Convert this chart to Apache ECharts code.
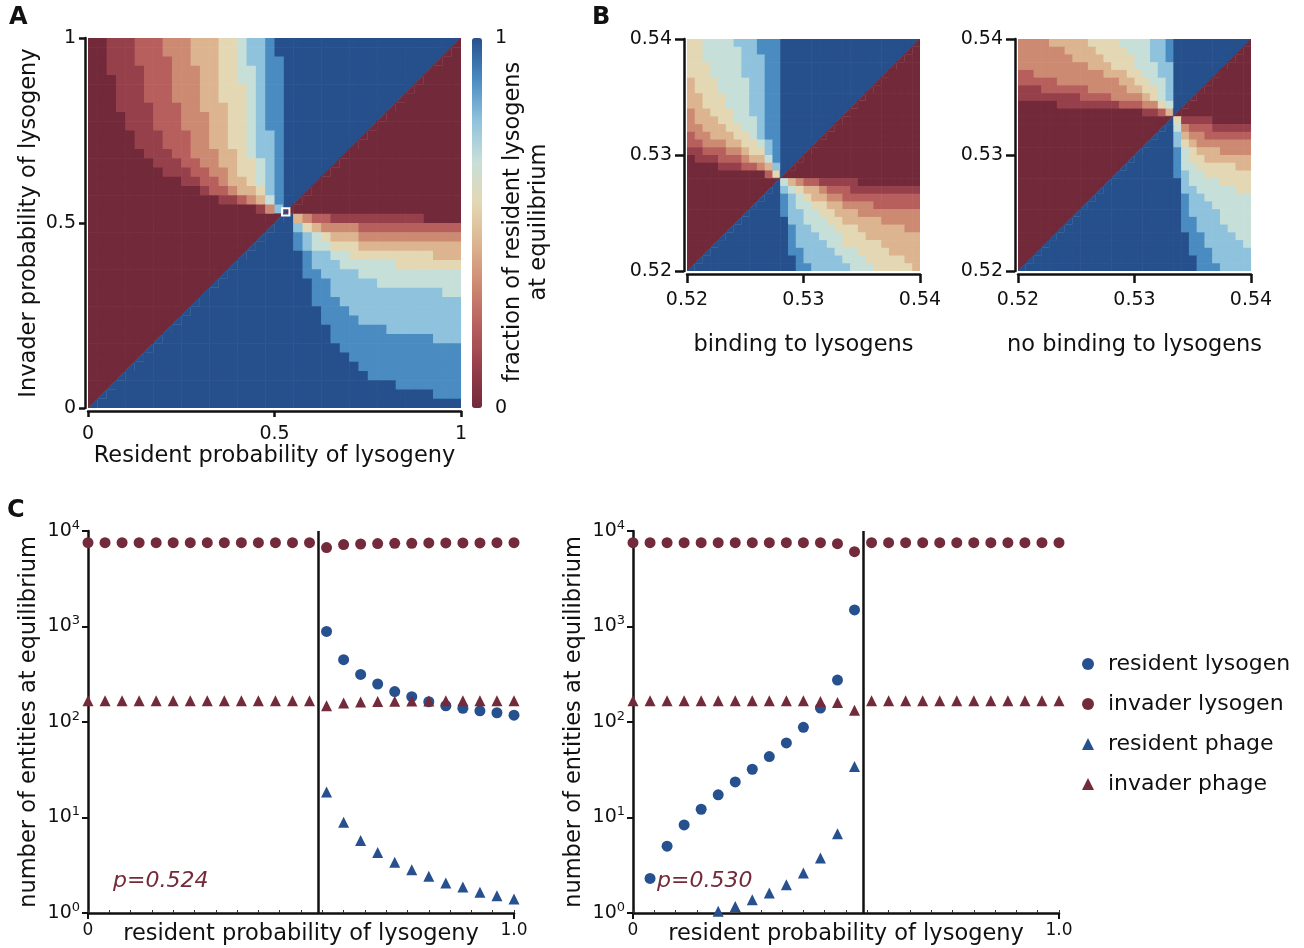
<!DOCTYPE html>
<html>
<head>
<meta charset="utf-8">
<script src="https://cdn.jsdelivr.net/npm/echarts/dist/echarts.min.js"></script>
<style>
  html, body { margin: 0; padding: 0; background: #fff; }
  #chart { width: 1304px; height: 948px; }
</style>
</head>
<body>
<div id="chart"></div>
<script>
// heatmaps: rows listed top -> bottom, one digit per cell = fraction * 9
// "d*n" = digit d repeated n times
// cells cut by the diagonal: "a" = red above / blue below, "b" = blue above / red below
const rangeA = [0, 1];
const rangeB = [0.52, 0.54];
const zoomBox = [0.52, 0.54];

const heatA = [
  '001112223334445567789 9*18 b',
  '001112223334445567789 9*17 b 0',
  '001112222334445567788 9*16 b 0*2',
  '001111222333445566788 9*15 b 0*3',
  '000111222333445566788 9*14 b 0*4',
  '000111222333445556788 9*13 b 0*5',
  '000111222333445556788 9*12 b 0*6',
  '000111122233444556788 9*11 b 0*7',
  '000011122233344556788 9*10 b 0*8',
  '000011122233344556788 9*9 b 0*9',
  '000001112223344556778 9*8 b 0*10',
  '000001112223344556778 9*7 b 0*11',
  '0*6 111223334456778 9*6 b 0*12',
  '0*7 11122334455678 9*5 b 0*13',
  '0*8 1112233455678 9*4 b 0*14',
  '0*10 11223445678 9*3 b 0*15',
  '0*12 122344578 9*2 b 0*16',
  '0*14 1123468 9 b 0*17',
  '0*18 137 b 0*18',
  '0*20 a 9 4322 1*10 0*4',
  '0*19 a 9*2 7543333 2*11',
  '0*18 a 9*3 8765444 3*11',
  '0*17 a 9*4 8766555 4*11',
  '0*16 a 9*6 87766 5*9 4*3',
  '0*15 a 9*7 8777 6*6 5*7',
  '0*14 a 9*8 88 7*4 6*11',
  '0*13 a 9*10 8*2 7*5 6*9',
  '0*12 a 9*11 8*2 7*12 6*2',
  '0*11 a 9*12 8*3 7*13',
  '0*10 a 9*14 8*3 7*12',
  '0*9 a 9*15 8*4 7*11',
  '0*8 a 9*17 8*6 7*8',
  '0*7 a 9*18 8*11 7*3',
  '0*6 a 9*20 8*13',
  '0*5 a 9*22 8*12',
  '0*4 a 9*24 8*11',
  '0*3 a 9*26 8*10',
  '0*2 a 9*30 8*7',
  '0*1 a 9*35 8*3',
  'a 9*39'
];

const heatBinding = [
  '556666777888 9*17 b',
  '556666677888 9*16 b 0',
  '556666677788 9*15 b 0*2',
  '555666677788 9*14 b 0*3',
  '555666677788 9*13 b 0*4',
  '455566667788 9*12 b 0*5',
  '455566667788 9*11 b 0*6',
  '445556667788 9*10 b 0*7',
  '445556667788 9*9 b 0*8',
  '344555667788 9*8 b 0*9',
  '344455666788 9*7 b 0*10',
  '334445566788 9*6 b 0*11',
  '233444556788 9*5 b 0*12',
  '223334455678 9*4 b 0*13',
  '112223345578 9*3 b 0*14',
  '011122234468 9*2 b 0*15',
  '000011122347 9 b 0*16',
  '000000000025 b 0*17',
  '0*11 a 6432211111 0*8',
  '0*10 a 9 765443222 1*9',
  '0*9 a 9*2 87654433 2*10',
  '0*8 a 9*3 87665544 3*4 2*6',
  '0*7 a 9*4 8776655444 3*8',
  '0*6 a 9*6 7766655 4*5 3*5',
  '0*5 a 9*7 877666555 4*6 3*2',
  '0*4 a 9*8 8777666555 4*7',
  '0*3 a 9*9 8 7*4 6*2 5*5 4*5',
  '0*2 a 9*10 8*2 7*4 6*3 5*4 4*4',
  '0*1 a 9*12 8 7*5 6*3 5*5 4*2',
  'a 9*13 8*2 7*5 6*3 5*5 4'
];

const heatNoBinding = [
  '33334444455556666778 9*9 b',
  '33333344445555666778 9*8 b 0',
  '33333334444555566778 9*7 b 0*2',
  '33333333344455566677 9*6 b 0*3',
  '22333333333444556677 9*5 b 0*4',
  '22222333333334455667 9*4 b 0*5',
  '11122222233333445567 9*3 b 0*6',
  '11111111222233334567 9*2 b 0*7',
  '00000111111112223356 9 b 0*8',
  '00000000000000001124 b 0*9',
  '0*19 a 51111 0*5',
  '0*18 a 9 63222 1*5',
  '0*17 a 9*2 7433 2*6',
  '0*16 a 9*3 754 3*7',
  '0*15 a 9*4 865444 3*4',
  '0*14 a 9*5 8655 4*6',
  '0*13 a 9*6 866 5*5 4*2',
  '0*12 a 9*7 8766 5*6',
  '0*11 a 9*9 7 6*4 5*4',
  '0*10 a 9*10 77 6*5 5*2',
  '0*9 a 9*11 877 6*6',
  '0*8 a 9*12 8777 6*5',
  '0*7 a 9*13 8 7*4 6*4',
  '0*6 a 9*14 88 777 6*4',
  '0*5 a 9*15 88 7*4 6*3',
  '0*4 a 9*17 88 7*4 6*2',
  '0*3 a 9*18 88 7*5 6',
  '0*2 a 9*19 888 7*5',
  '0*1 a 9*21 88 7*5',
  'a 9*22 888 7*4'
];

const fracColors = ['#722939', '#96404b', '#b75f5d', '#cd8a72', '#dcb490',
  '#e3d8b3', '#c7dfd9', '#8fc2dc', '#4a8bc1', '#26508c'];

// panel C: equilibrium counts vs resident probability of lysogeny
const residentP = [0, 0.04, 0.08, 0.12, 0.16, 0.2, 0.24, 0.28, 0.32, 0.36, 0.4, 0.44, 0.48,
  0.52, 0.56, 0.6, 0.64, 0.68, 0.72, 0.76, 0.8, 0.84, 0.88, 0.92, 0.96, 1.0];
const switchP = [0.54, 0.54];

const resLysogen524 = [null, null, null, null, null, null, null, null, null, null, null, null, null, null,
  887, 449, 315, 250, 208, 184, 163, 148, 139, 131, 125, 118];
const invLysogen524 = [7550, 7550, 7550, 7550, 7550, 7550, 7550, 7550, 7550, 7550, 7550, 7550, 7550, 7550,
  6700, 7200, 7310, 7380, 7440, 7440, 7500, 7500, 7500, 7500, 7550, 7550];
const resPhage524 = [null, null, null, null, null, null, null, null, null, null, null, null, null, null,
  18.5, 8.9, 5.75, 4.31, 3.39, 2.84, 2.42, 2.06, 1.87, 1.65, 1.52, 1.40];
const invPhage524 = [167, 167, 167, 167, 167, 167, 167, 167, 167, 167, 167, 167, 167, 167,
  148, 158, 162, 164, 165, 166, 166, 167, 167, 167, 167, 167];

const resLysogen530 = [null, 2.30, 5.01, 8.37, 12.2, 17.3, 23.6, 32.0, 43.4, 60.3, 87.9, 140, 275, 1490,
  null, null, null, null, null, null, null, null, null, null, null, null];
const invLysogen530 = [7550, 7550, 7550, 7550, 7550, 7550, 7550, 7550, 7550, 7550, 7550, 7550, 7370, 6080,
  7550, 7550, 7550, 7550, 7550, 7550, 7550, 7550, 7550, 7550, 7550, 7550];
const resPhage530 = [null, null, null, null, 0.95, 1.04, 1.17, 1.38, 1.62, 1.98, 2.62, 3.76, 6.75, 34.1,
  null, null, null, null, null, null, null, null, null, null, null, null];
const invPhage530 = [167, 167, 167, 167, 167, 167, 167, 167, 167, 167, 167, 164, 160, 133,
  167, 167, 167, 167, 167, 167, 167, 167, 167, 167, 167, 167];

const BLUE = '#27508f';
const RED = '#732a3b';
const FONT = 'DejaVu Sans';

function decodeRow(s) {
  return s.split(' ').map(function (t) {
    return t.indexOf('*') > 0 ? t[0].repeat(+t.slice(2)) : t;
  }).join('');
}

// cell item: [x0, y0, x1, y1, fraction, part]  part 0 = whole, 1 = upper-left half, 2 = lower-right half
function buildCells(rows, range) {
  let n = rows.length;
  let step = (range[1] - range[0]) / n;
  let cells = [];
  rows.forEach(function (s, r) {
    let row = decodeRow(s);
    if (row.length !== n) console.warn('row', r, 'has', row.length, 'cells');
    for (let i = 0; i < row.length; i++) {
      let x0 = range[0] + i * step;
      let y0 = range[1] - (r + 1) * step;
      let box = [x0, y0, x0 + step, y0 + step];
      if (row[i] === 'a') {
        cells.push(box.concat([0, 1]), box.concat([1, 2]));
      } else if (row[i] === 'b') {
        cells.push(box.concat([1, 1]), box.concat([0, 2]));
      } else {
        cells.push(box.concat([+row[i] / 9, 0]));
      }
    }
  });
  return cells;
}

function renderCell(params, api) {
  let p0 = api.coord([api.value(0), api.value(1)]);
  let p1 = api.coord([api.value(2), api.value(3)]);
  let color = api.visual('color');
  let part = api.value(5);
  if (part === 0) {
    return {
      type: 'rect',
      shape: { x: p0[0], y: p1[1], width: p1[0] - p0[0] + 0.6, height: p0[1] - p1[1] + 0.6 },
      style: { fill: color }
    };
  }
  let pts = part === 1
    ? [[p0[0], p0[1]], [p0[0], p1[1]], [p1[0], p1[1]]]
    : [[p0[0], p0[1]], [p1[0], p0[1]], [p1[0], p1[1]]];
  return {
    type: 'polygon',
    shape: { points: pts },
    style: { fill: color, stroke: color, lineWidth: 0.7 }
  };
}

function renderBox(params, api) {
  let p0 = api.coord([api.value(0), api.value(1)]);
  let p1 = api.coord([api.value(2), api.value(3)]);
  return {
    type: 'rect',
    shape: { x: p0[0], y: p1[1], width: p1[0] - p0[0], height: p0[1] - p1[1] },
    style: { fill: 'none', stroke: '#fff', lineWidth: 2 }
  };
}

function points(values) {
  let out = [];
  values.forEach(function (v, i) {
    if (v !== null) out.push([residentP[i], v]);
  });
  return out;
}

function heatAxis(gridIndex, range, interval, fmt, name, nameGap, tickLen, labelMargin) {
  return {
    gridIndex: gridIndex,
    type: 'value',
    min: range[0],
    max: range[1],
    interval: interval,
    offset: 3,
    splitLine: { show: false },
    axisLine: { show: true, onZero: false, lineStyle: { color: '#111', width: 2.5 } },
    axisTick: { show: true, length: tickLen, lineStyle: { color: '#111', width: 2.5 } },
    axisLabel: { color: '#111', fontSize: 19, fontFamily: FONT, margin: labelMargin, formatter: fmt },
    name: name,
    nameLocation: 'middle',
    nameGap: nameGap,
    nameTextStyle: { color: '#111', fontSize: 22.5, fontFamily: FONT }
  };
}

function fmtA(v) { return String(+v.toFixed(1)); }
function fmtB(v) { return v.toFixed(2); }

function countAxisX(gridIndex) {
  return {
    gridIndex: gridIndex,
    type: 'value',
    position: 'bottom',
    min: 0,
    max: 1,
    interval: 1,
    splitLine: { show: false },
    axisLine: { show: true, onZero: false, lineStyle: { color: '#111', width: 2.5 } },
    axisTick: { show: true, length: 6, lineStyle: { color: '#111', width: 2 } },
    axisLabel: {
      color: '#111', fontSize: 17, fontFamily: FONT, margin: 9,
      formatter: function (v) { return v === 0 ? '0' : v.toFixed(1); }
    },
    name: 'resident probability of lysogeny',
    nameLocation: 'middle',
    nameGap: 10,
    nameMoveOverlap: false,
    nameTextStyle: { color: '#111', fontSize: 22.5, fontFamily: FONT }
  };
}

function minorTickAxis(gridIndex) {
  return {
    gridIndex: gridIndex,
    type: 'value',
    position: 'bottom',
    min: 0,
    max: 1,
    interval: 0.05,
    splitLine: { show: false },
    axisLine: { show: false },
    axisTick: { show: true, inside: true, length: 3, lineStyle: { color: '#333', width: 1 } },
    axisLabel: { show: false }
  };
}

function countAxisY(gridIndex) {
  return {
    gridIndex: gridIndex,
    type: 'log',
    logBase: 10,
    min: 1,
    max: 10000,
    splitLine: { show: false },
    axisLine: { show: true, onZero: false, lineStyle: { color: '#111', width: 2.5 } },
    axisTick: { show: true, length: 6, lineStyle: { color: '#111', width: 2 } },
    axisLabel: {
      color: '#111', fontSize: 19, fontFamily: FONT, margin: 8,
      formatter: function (v) { return '10{sup|' + Math.round(Math.log10(v)) + '}'; },
      rich: { sup: { fontSize: 13, fontFamily: FONT, color: '#111', verticalAlign: 'bottom', padding: [0, 0, 11, 0] } }
    },
    name: 'number of entities at equilibrium',
    nameLocation: 'middle',
    nameGap: 47,
    nameTextStyle: { color: '#111', fontSize: 22.5, fontFamily: FONT }
  };
}

function countSeries(axisIndex, resL, invL, resP, invP) {
  let base = { type: 'scatter', xAxisIndex: axisIndex, yAxisIndex: axisIndex, symbolSize: 11, z: 3 };
  return [
    Object.assign({}, base, {
      name: 'resident lysogen', symbol: 'circle', itemStyle: { color: BLUE, opacity: 1 }, data: points(resL),
      markLine: {
        silent: true, symbol: 'none', label: { show: false },
        lineStyle: { color: '#111', width: 2.5, type: 'solid' },
        data: [{ xAxis: switchP[axisIndex - 3] }]
      }
    }),
    Object.assign({}, base, { name: 'invader lysogen', symbol: 'circle', itemStyle: { color: RED, opacity: 1 }, data: points(invL) }),
    Object.assign({}, base, { name: 'resident phage', symbol: 'triangle', itemStyle: { color: BLUE, opacity: 1 }, data: points(resP) }),
    Object.assign({}, base, { name: 'invader phage', symbol: 'triangle', itemStyle: { color: RED, opacity: 1 }, data: points(invP) })
  ];
}

const chart = echarts.init(document.getElementById('chart'), null, { renderer: 'canvas' });

const option = {
  backgroundColor: '#fff',
  animation: false,
  textStyle: { fontFamily: FONT },
  grid: [
    { left: 88, top: 38, width: 373, height: 370, outerBoundsMode: 'none' },
    { left: 687, top: 39, width: 233, height: 232, outerBoundsMode: 'none' },
    { left: 1018, top: 39, width: 233, height: 232, outerBoundsMode: 'none' },
    { left: 88, top: 531, width: 426, height: 382, outerBoundsMode: 'none' },
    { left: 633, top: 531, width: 426, height: 382, outerBoundsMode: 'none' }
  ],
  xAxis: [
    heatAxis(0, rangeA, 0.5, fmtA, 'Resident probability of lysogeny', 34, 6, 14),
    heatAxis(1, rangeB, 0.01, fmtB, 'binding to lysogens', 60, 9, 17),
    heatAxis(2, rangeB, 0.01, fmtB, 'no binding to lysogens', 60, 9, 17),
    countAxisX(3),
    countAxisX(4),
    minorTickAxis(3),
    minorTickAxis(4)
  ],
  yAxis: [
    heatAxis(0, rangeA, 0.5, fmtA, 'Invader probability of lysogeny', 44, 6, 9),
    heatAxis(1, rangeB, 0.01, fmtB, '', 0, 9, 12),
    heatAxis(2, rangeB, 0.01, fmtB, '', 0, 9, 12),
    countAxisY(3),
    countAxisY(4)
  ],
  visualMap: {
    type: 'continuous',
    min: 0,
    max: 1,
    dimension: 4,
    seriesIndex: [0, 1, 2],
    calculable: false,
    orient: 'vertical',
    left: 472,
    top: 38,
    itemWidth: 10,
    itemHeight: 370,
    padding: 0,
    text: null,
    showLabel: false,
    inRange: { color: fracColors }
  },
  legend: {
    orient: 'vertical',
    left: 1077,
    top: 648,
    itemGap: 18,
    itemWidth: 12,
    itemHeight: 12,
    textStyle: { color: '#111', fontSize: 22, fontFamily: FONT, padding: [0, 0, 0, 9] },
    data: [
      { name: 'resident lysogen', icon: 'circle' },
      { name: 'invader lysogen', icon: 'circle' },
      { name: 'resident phage', icon: 'triangle' },
      { name: 'invader phage', icon: 'triangle' }
    ]
  },
  graphic: [
    { type: 'text', left: 9, top: 6, style: { text: 'A', font: 'bold 24px "DejaVu Sans"', fill: '#111' } },
    { type: 'text', left: 592, top: 6, style: { text: 'B', font: 'bold 24px "DejaVu Sans"', fill: '#111' } },
    { type: 'text', left: 7, top: 499, style: { text: 'C', font: 'bold 24px "DejaVu Sans"', fill: '#111' } },
    { type: 'text', x: 495, y: 38, style: { text: '1', font: '19px "DejaVu Sans"', fill: '#111', align: 'left', verticalAlign: 'middle' } },
    { type: 'text', x: 495, y: 408, style: { text: '0', font: '19px "DejaVu Sans"', fill: '#111', align: 'left', verticalAlign: 'middle' } },
    {
      type: 'text', x: 526, y: 222, rotation: Math.PI / 2,
      style: {
        text: 'fraction of resident lysogens\nat equilibrium', font: '22.5px "DejaVu Sans"', fill: '#111',
        align: 'center', verticalAlign: 'middle', lineHeight: 26
      }
    },
    { type: 'text', x: 113, y: 881, style: { text: 'p=0.524', font: 'italic 22px "DejaVu Sans"', fill: RED, verticalAlign: 'middle' } },
    { type: 'text', x: 657, y: 881, style: { text: 'p=0.530', font: 'italic 22px "DejaVu Sans"', fill: RED, verticalAlign: 'middle' } }
  ],
  series: [
    {
      type: 'custom', name: 'heatA', xAxisIndex: 0, yAxisIndex: 0, clip: true,
      renderItem: renderCell, data: buildCells(heatA, rangeA)
    },
    {
      type: 'custom', name: 'heatBinding', xAxisIndex: 1, yAxisIndex: 1, clip: true,
      renderItem: renderCell, data: buildCells(heatBinding, rangeB)
    },
    {
      type: 'custom', name: 'heatNoBinding', xAxisIndex: 2, yAxisIndex: 2, clip: true,
      renderItem: renderCell, data: buildCells(heatNoBinding, rangeB)
    },
    {
      type: 'custom', name: 'zoomBox', xAxisIndex: 0, yAxisIndex: 0, z: 5,
      renderItem: renderBox, data: [[zoomBox[0], zoomBox[0], zoomBox[1], zoomBox[1]]]
    }
  ]
    .concat(countSeries(3, resLysogen524, invLysogen524, resPhage524, invPhage524))
    .concat(countSeries(4, resLysogen530, invLysogen530, resPhage530, invPhage530))
};

chart.setOption(option);
</script>
</body>
</html>
